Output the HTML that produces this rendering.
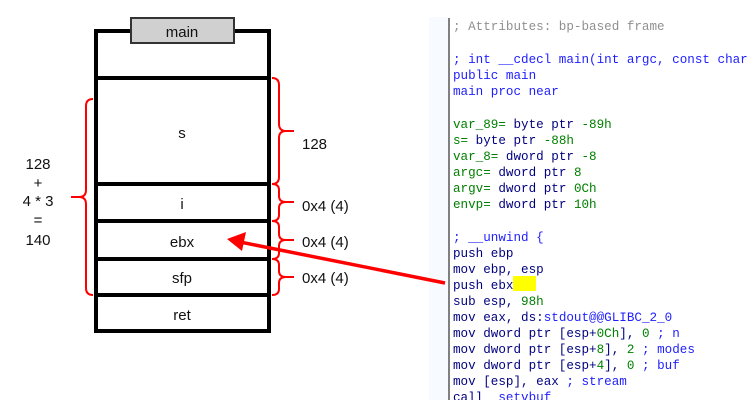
<!DOCTYPE html>
<html><head><meta charset="utf-8"><style>
html,body{margin:0;padding:0;background:#fff;width:753px;height:414px;overflow:hidden}
svg{display:block}
.m{font-family:"Liberation Mono",monospace;font-size:12.6px}
.s{font-family:"Liberation Sans",sans-serif;font-size:15px}
</style></head><body>
<svg width="753" height="414" xmlns="http://www.w3.org/2000/svg">
<rect x="429" y="17" width="324" height="383" fill="#f7fbff"/>
<rect x="448" y="17" width="305" height="383" fill="#fff"/>
<line x1="449" y1="18" x2="449" y2="400" stroke="#808080" stroke-width="2"/>
<g class="m">
<text x="453" y="30" fill="#909090">; Attributes: bp-based frame</text>
<text x="453" y="63" fill="#1e1eff">; int __cdecl main(int argc, const char</text>
<text x="453" y="79" fill="#1e1eff">public main</text>
<text x="453" y="95" fill="#1e1eff">main proc near</text>
<g fill="#008000">
<text x="453" y="128">var_89=<tspan fill="#000080"> byte ptr </tspan>-89h</text>
<text x="453" y="144">s=<tspan fill="#000080"> byte ptr </tspan>-88h</text>
<text x="453" y="160">var_8=<tspan fill="#000080"> dword ptr </tspan>-8</text>
<text x="453" y="176">argc=<tspan fill="#000080"> dword ptr  </tspan>8</text>
<text x="453" y="192">argv=<tspan fill="#000080"> dword ptr  </tspan>0Ch</text>
<text x="453" y="208">envp=<tspan fill="#000080"> dword ptr  </tspan>10h</text>
</g>
<text x="453" y="241" fill="#1e1eff">; __unwind {</text>
<rect x="513" y="276" width="23" height="15" fill="#ffff00"/>
<g fill="#000080">
<text x="453" y="257">push    ebp</text>
<text x="453" y="273">mov     ebp, esp</text>
<text x="453" y="289">push    ebx</text>
<text x="453" y="305">sub     esp, <tspan fill="#008000">98h</tspan></text>
<text x="453" y="321">mov     eax, ds:<tspan fill="#1e1eff">stdout@@GLIBC_2_0</tspan></text>
<text x="453" y="337">mov     dword ptr [esp+<tspan fill="#008000">0Ch</tspan>], <tspan fill="#008000">0</tspan> <tspan fill="#1e1eff">; n</tspan></text>
<text x="453" y="353">mov     dword ptr [esp+<tspan fill="#008000">8</tspan>], <tspan fill="#008000">2</tspan> <tspan fill="#1e1eff">; modes</tspan></text>
<text x="453" y="369">mov     dword ptr [esp+<tspan fill="#008000">4</tspan>], <tspan fill="#008000">0</tspan> <tspan fill="#1e1eff">; buf</tspan></text>
<text x="453" y="385">mov     [esp], eax      <tspan fill="#1e1eff">; stream</tspan></text>
<text x="453" y="401">call    <tspan fill="#1e1eff">_setvbuf</tspan></text>
</g>
</g>
<rect x="448" y="400" width="305" height="14" fill="#fff"/>

<!-- stack -->
<g fill="none" stroke="#000" stroke-width="4">
<rect x="96" y="31" width="173" height="300"/>
<line x1="96" y1="78" x2="269" y2="78"/>
<line x1="96" y1="184" x2="269" y2="184"/>
<line x1="96" y1="221" x2="269" y2="221"/>
<line x1="96" y1="259" x2="269" y2="259"/>
<line x1="96" y1="295" x2="269" y2="295"/>
</g>
<rect x="131" y="18" width="103" height="25" fill="#d0d0d0" stroke="#333" stroke-width="2"/>
<g class="s" text-anchor="middle" fill="#111">
<text x="182" y="37">main</text>
<text x="182" y="138">s</text>
<text x="182" y="209">i</text>
<text x="182" y="247">ebx</text>
<text x="182" y="283">sfp</text>
<text x="182" y="320">ret</text>
<text x="38" y="169">128</text>
<text x="38" y="188">+</text>
<text x="38" y="206">4 * 3</text>
<text x="38" y="225">=</text>
<text x="38" y="245">140</text>
</g>
<g class="s" fill="#111">
<text x="302" y="149">128</text>
<text x="302" y="211">0x4 (4)</text>
<text x="302" y="247">0x4 (4)</text>
<text x="302" y="283">0x4 (4)</text>
</g>
<!-- braces -->
<g fill="none" stroke="#f00" stroke-width="2">
<path d="M272 78 Q279 78 279 85 L279 124 Q279 131 286 131 L294 131 M286 131 Q279 131 279 138 L279 177 Q279 184 272 184"/>
<path d="M272 184 Q279 184 279 190 L279 196 Q279 202 286 202 L294 202 M286 202 Q279 202 279 208 L279 215 Q279 221 272 221"/>
<path d="M272 221 Q279 221 279 227 L279 234 Q279 240 286 240 L294 240 M286 240 Q279 240 279 246 L279 253 Q279 259 272 259"/>
<path d="M272 259 Q279 259 279 265 L279 271 Q279 277 286 277 L294 277 M286 277 Q279 277 279 283 L279 289 Q279 295 272 295"/>
<path d="M93 99 Q86 99 86 106 L86 190 Q86 197 79 197 L71 197 M79 197 Q86 197 86 204 L86 288 Q86 295 93 295"/>
</g>
<line x1="445" y1="283" x2="240" y2="242" stroke="#f00" stroke-width="3.5"/>
<polygon points="227,239 246,232 242,251" fill="#f00"/>
</svg>
</body></html>
